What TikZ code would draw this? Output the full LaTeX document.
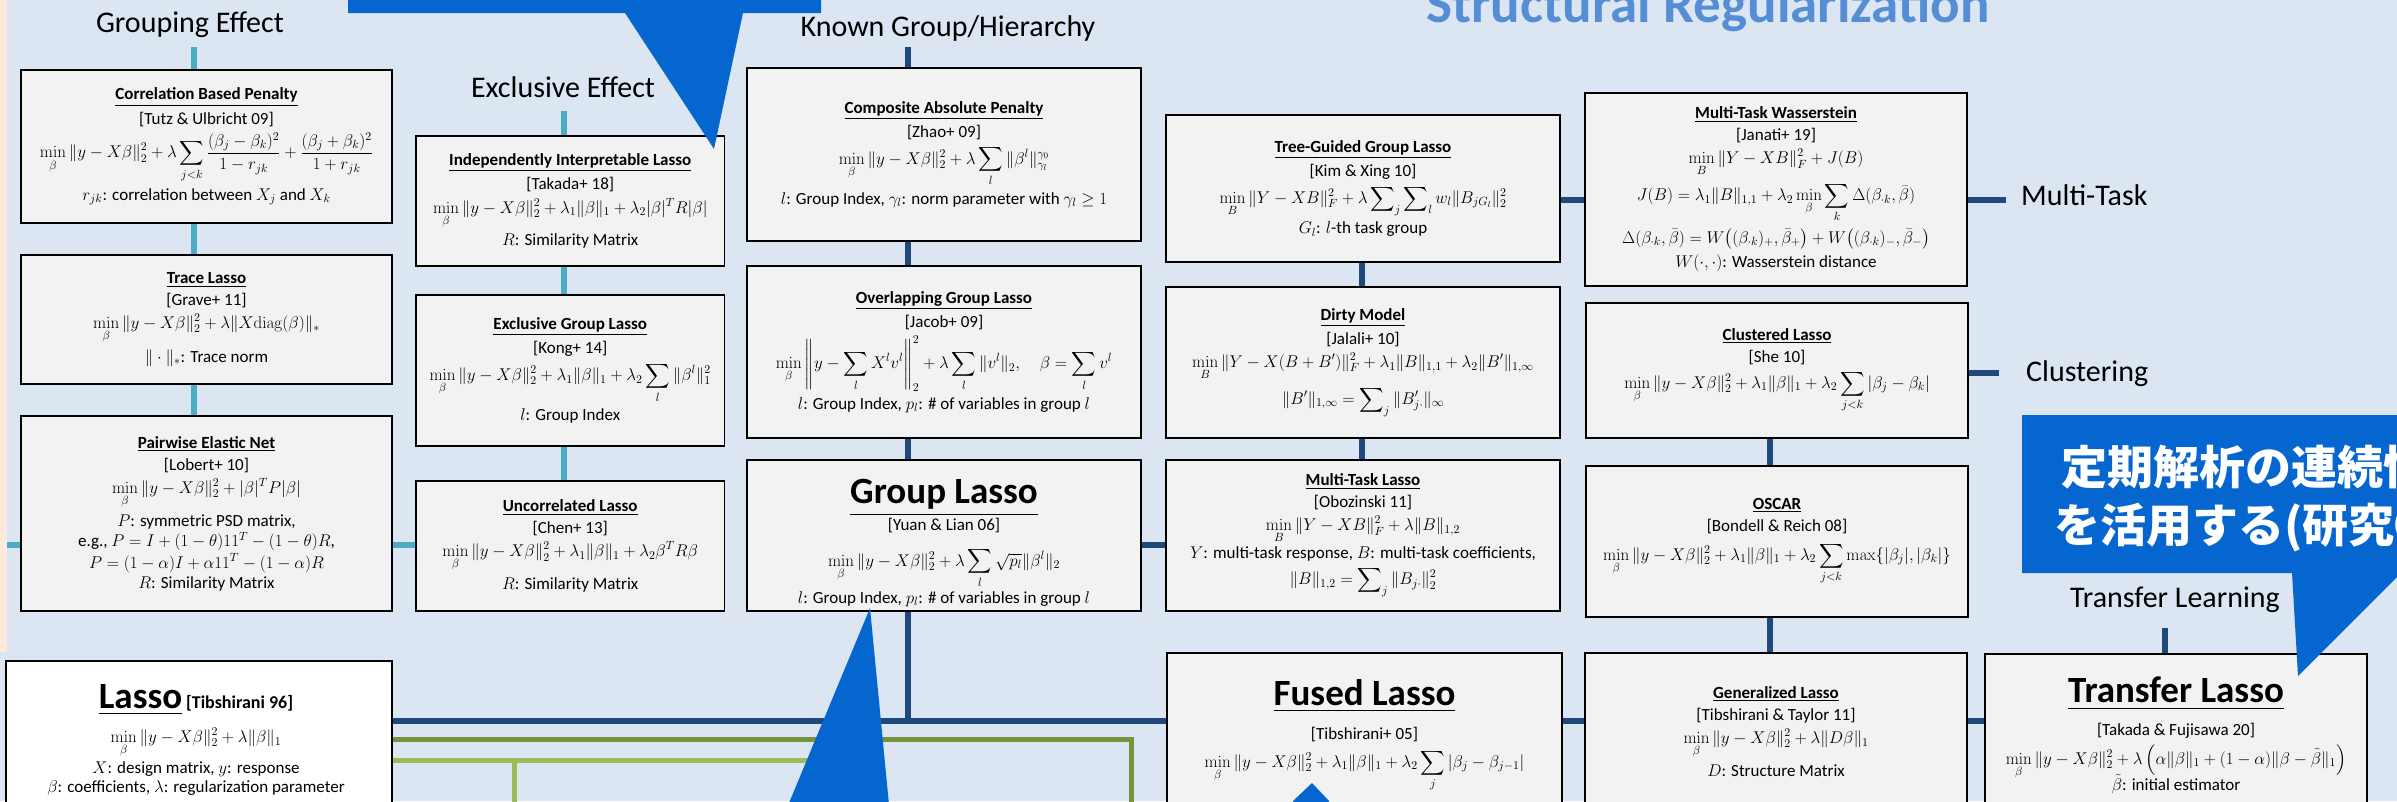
\documentclass[tikz,border=0pt]{standalone}
\usepackage{fix-cm}
\usepackage{amsmath,amssymb}
\usepackage[no-math]{fontspec}
\setmainfont{Carlito}
\newfontfamily\jpfont{Noto Sans CJK JP}
\usetikzlibrary{calc}
\pgfdeclarelayer{back}
\pgfdeclarelayer{lines}
\pgfdeclarelayer{front}
\pgfsetlayers{back,lines,main,front}
\definecolor{bgblue}{HTML}{DCE6F2}
\definecolor{peach}{HTML}{FDEADA}
\definecolor{navy}{HTML}{1F497D}
\definecolor{cyanl}{HTML}{4BACC6}
\definecolor{dkgreen}{HTML}{77933C}
\definecolor{ltgreen}{HTML}{9BBB59}
\definecolor{calloutblue}{HTML}{0566D0}
\definecolor{titleblue}{HTML}{558ED5}
\definecolor{boxgray}{HTML}{F2F2F2}
\newcommand\ttl[1]{\underline{\textbf{#1}}}
\newcommand\bigttl[1]{{\fontsize{37}{40}\selectfont\underline{\textbf{#1}}}}
\newcommand\dm[1]{$\displaystyle #1$}
\newcommand\boxfont{\fontsize{17}{22}\selectfont\lineskiplimit=6pt\lineskip=6pt}
\tikzset{
  box/.style={draw=black, line width=1.6pt, fill=boxgray, inner sep=0pt, outer sep=0pt, align=center, font=\boxfont},
  content/.style={inner sep=0pt, align=center, font=\boxfont},
  lbl/.style={font=\fontsize{30}{36}\selectfont, inner sep=0pt, anchor=base},
  navyline/.style={draw=navy, line width=5.5pt},
  cyanline/.style={draw=cyanl, line width=5.5pt},
  dkgreenline/.style={draw=dkgreen, line width=5pt},
  ltgreenline/.style={draw=ltgreen, line width=5pt},
  jptext/.style={font=\fontsize{46}{50}\selectfont\jpfont\bfseries, text=white, anchor=base west, inner sep=0pt}
}
\newcommand\mkbox[6]{\node[box,minimum width={(#4-#2)*1pt},minimum height={(#5-#3)*1pt}] (#1) at ({(#2+#4)/2},{(#3+#5)/2}) {#6};}
\begin{document}
\begin{tikzpicture}[x=1pt,y=-1pt]
\useasboundingbox (0,0) rectangle (2397,801);
\begin{pgfonlayer}{back}
\fill[bgblue] (0,0) rectangle (2397,801);
\end{pgfonlayer}

% coordinates
\coordinate (gTop) at (194,47);
\coordinate (eTop) at (564,111);
\coordinate (kTop) at (908,47);
\coordinate (tX) at (1362,0);
\coordinate (cX) at (1770,0);
\coordinate (tlTop) at (2165,628);
\coordinate (cyL) at (7,545);
\coordinate (nvY) at (0,721);
\coordinate (mtEnd) at (2006,200);
\coordinate (clEnd) at (1999,373);
\coordinate (gdY) at (0,739);
\coordinate (gdC) at (1131,739);
\coordinate (gdB) at (1131,815);
\coordinate (glY) at (0,760);
\coordinate (glC) at (845,760);
\coordinate (glB) at (845,815);
\coordinate (glV) at (514,760);
\coordinate (glVB) at (514,815);

% title and labels
\node[font=\fontsize{55}{60}\selectfont\bfseries, text=titleblue, anchor=base, inner sep=0pt] (title) at (1708,22) {Structural Regularization};
\node[lbl] (lblG) at (190,32) {Grouping Effect};
\node[lbl] (lblE) at (563,97) {Exclusive Effect};
\node[lbl] (lblK) at (948,36) {Known Group/Hierarchy};
\node[lbl,anchor=base west] (lblMT) at (2021,205) {Multi-Task};
\node[lbl,anchor=base west] (lblCl) at (2026,381) {Clustering};
\node[lbl] (lblTL) at (2175,607) {Transfer Learning};

% column 1
\mkbox{corr}{21}{70}{392}{223}{\ttl{Correlation Based Penalty}\\ {[Tutz \& Ulbricht 09]}\\ \dm{\min_{\beta}\|y-X\beta\|_2^2+\lambda\sum_{j<k}\frac{(\beta_j-\beta_k)^2}{1-r_{jk}}+\frac{(\beta_j+\beta_k)^2}{1+r_{jk}}}\\ $r_{jk}$: correlation between $X_j$ and $X_k$}
\mkbox{trace}{21}{255}{392}{384}{\ttl{Trace Lasso}\\ {[Grave+ 11]}\\ \dm{\min_\beta\|y-X\beta\|_2^2+\lambda\|X\mathrm{diag}(\beta)\|_*}\\ $\|\cdot\|_*$: Trace norm}
\mkbox{pair}{21}{416}{392}{611}{\ttl{Pairwise Elastic Net}\\ {[Lobert+ 10]}\\ \dm{\min_\beta\|y-X\beta\|_2^2+|\beta|^TP|\beta|}\\ $P$: symmetric PSD matrix,\\[-3pt] e.g., $P=I+(1-\theta)11^T-(1-\theta)R$,\\[-3pt] $P=(1-\alpha)I+\alpha 11^T-(1-\alpha)R$\\[-2pt] $R$: Similarity Matrix}

% column 2
\mkbox{indep}{416}{136}{724.5}{266}{\ttl{Independently Interpretable Lasso}\\ {[Takada+ 18]}\\ \dm{\min_\beta\|y-X\beta\|_2^2+\lambda_1\|\beta\|_1+\lambda_2|\beta|^TR|\beta|}\\ $R$: Similarity Matrix}
\mkbox{excl}{416}{295}{724.5}{446}{\ttl{Exclusive Group Lasso}\\ {[Kong+ 14]}\\ \dm{\min_\beta\|y-X\beta\|_2^2+\lambda_1\|\beta\|_1+\lambda_2\sum_l\|\beta^l\|_1^2}\\ $l$: Group Index}
\mkbox{uncor}{416}{481}{724.5}{611}{\ttl{Uncorrelated Lasso}\\ {[Chen+ 13]}\\ \dm{\min_\beta\|y-X\beta\|_2^2+\lambda_1\|\beta\|_1+\lambda_2\beta^TR\beta}\\ $R$: Similarity Matrix}

% column 3
\mkbox{comp}{747}{68}{1141}{241}{\ttl{Composite Absolute Penalty}\\ {[Zhao+ 09]}\\ \dm{\min_\beta\|y-X\beta\|_2^2+\lambda\sum_l\|\beta^l\|_{\gamma_l}^{\gamma_0}}\\ $l$: Group Index, $\gamma_l$: norm parameter with $\gamma_l\ge 1$}
\mkbox{overlap}{747}{266}{1141}{438}{\ttl{Overlapping Group Lasso}\\ {[Jacob+ 09]}\\ \dm{\min_\beta\left\|y-\sum_l X^lv^l\right\|_2^2+\lambda\sum_l\|v^l\|_2,\quad\beta=\sum_l v^l}\\ $l$: Group Index, $p_l$: \# of variables in group $l$}
\mkbox{glasso}{747}{460}{1141}{611}{}
\node[content,anchor=north] (glassoC) at (944,479) {\bigttl{Group Lasso}\\[-4pt] {[Yuan \& Lian 06]}\\[9pt] \dm{\min_\beta\|y-X\beta\|_2^2+\lambda\sum_l\sqrt{p_l}\|\beta^l\|_2}\\[-3pt] $l$: Group Index, $p_l$: \# of variables in group $l$};

% column 4
\mkbox{tree}{1166}{115}{1560}{262}{\ttl{Tree-Guided Group Lasso}\\ {[Kim \& Xing 10]}\\ \dm{\min_B\|Y-XB\|_F^2+\lambda\sum\nolimits_j\sum\nolimits_l w_l\|B_{jG_l}\|_2^2}\\ $G_l$: $l$-th task group}
\mkbox{dirty}{1166}{287}{1560}{438}{\ttl{Dirty Model}\\ {[Jalali+ 10]}\\ \dm{\min_B\|Y-X(B+B')\|_F^2+\lambda_1\|B\|_{1,1}+\lambda_2\|B'\|_{1,\infty}}\\ \dm{\|B'\|_{1,\infty}=\sum\nolimits_j\|B_{j\cdot}'\|_\infty}}
\mkbox{mtl}{1166}{460}{1560}{611}{\ttl{Multi-Task Lasso}\\ {[Obozinski 11]}\\ \dm{\min_B\|Y-XB\|_F^2+\lambda\|B\|_{1,2}}\\[-3pt] $Y$: multi-task response, $B$: multi-task coefficients,\\ \dm{\|B\|_{1,2}=\sum\nolimits_j\|B_{j\cdot}\|_2^2}}
\mkbox{fused}{1167}{653}{1562}{840}{}
\node[content,anchor=north] (fusedC) at (1364.5,679) {\bigttl{Fused Lasso}\\[8pt] {[Tibshirani+ 05]}\\[2pt] \dm{\min_\beta\|y-X\beta\|_2^2+\lambda_1\|\beta\|_1+\lambda_2\sum_j|\beta_j-\beta_{j-1}|}};

% column 5
\mkbox{mtw}{1585}{93}{1967}{286}{\ttl{Multi-Task Wasserstein}\\ {[Janati+ 19]}\\ \dm{\min_B\|Y-XB\|_F^2+J(B)}\\ \dm{J(B)=\lambda_1\|B\|_{1,1}+\lambda_2\min_\beta\sum_k\Delta(\beta_{\cdot k},\bar\beta)}\\ \dm{\Delta(\beta_{\cdot k},\bar\beta)=W\bigl((\beta_{\cdot k})_+,\bar\beta_+\bigr)+W\bigl((\beta_{\cdot k})_-,\bar\beta_-\bigr)}\\ $W(\cdot,\cdot)$: Wasserstein distance}
\mkbox{clus}{1586}{303}{1968}{438}{\ttl{Clustered Lasso}\\ {[She 10]}\\ \dm{\min_\beta\|y-X\beta\|_2^2+\lambda_1\|\beta\|_1+\lambda_2\sum_{j<k}|\beta_j-\beta_k|}}
\mkbox{oscar}{1586}{466}{1968}{617}{\ttl{OSCAR}\\ {[Bondell \& Reich 08]}\\[3pt] \dm{\min_\beta\|y-X\beta\|_2^2+\lambda_1\|\beta\|_1+\lambda_2\sum_{j<k}\max\{|\beta_j|,|\beta_k|\}}}
\mkbox{gen}{1585}{653}{1967}{840}{}
\node[content,anchor=north] (genC) at (1776,686) {\ttl{Generalized Lasso}\\ {[Tibshirani \& Taylor 11]}\\ \dm{\min_\beta\|y-X\beta\|_2^2+\lambda\|D\beta\|_1}\\ $D$: Structure Matrix};
\mkbox{tl}{1985}{654}{2367}{840}{}
\node[content,anchor=north] (tlC) at (2176,677) {\bigttl{Transfer Lasso}\\[7pt] {[Takada \& Fujisawa 20]}\\ \dm{\min_\beta\|y-X\beta\|_2^2+\lambda\left(\alpha\|\beta\|_1+(1-\alpha)\|\beta-\tilde\beta\|_1\right)}\\[-11pt] $\tilde\beta$: initial estimator};

% Lasso
\node[box,fill=white,minimum width=386pt,minimum height=180pt] (lasso) at (199,751) {};
\node[content,anchor=north] (lassoC) at (196,684) {\bigttl{Lasso} {\fontsize{18}{20}\selectfont\textbf{[Tibshirani 96]}}\\[6pt] \dm{\min_\beta\|y-X\beta\|_2^2+\lambda\|\beta\|_1}\\[-2pt] $X$: design matrix, $y$: response\\[-3pt] $\beta$: coefficients, $\lambda$: regularization parameter};

\begin{pgfonlayer}{back}
\fill[peach] (0,0) rectangle (7,652);
\end{pgfonlayer}

\begin{pgfonlayer}{lines}
\draw[cyanline] (gTop) -- (corr.north -| gTop);
\draw[cyanline] (corr.south -| gTop) -- (trace.north -| gTop);
\draw[cyanline] (trace.south -| gTop) -- (pair.north -| gTop);
\draw[cyanline] (eTop) -- (indep.north -| eTop);
\draw[cyanline] (indep.south -| eTop) -- (excl.north -| eTop);
\draw[cyanline] (excl.south -| eTop) -- (uncor.north -| eTop);
\draw[cyanline] (cyL) -- (pair.west |- cyL);
\draw[cyanline] (pair.east |- cyL) -- (uncor.west |- cyL);
\draw[navyline] (kTop) -- (comp.north -| kTop);
\draw[navyline] (comp.south -| kTop) -- (overlap.north -| kTop);
\draw[navyline] (overlap.south -| kTop) -- (glasso.north -| kTop);
\draw[navyline] (glasso.south -| kTop) -- (kTop |- nvY);
\draw[navyline] (lasso.east |- nvY) -- (fused.west |- nvY);
\draw[navyline] (fused.east |- nvY) -- (gen.west |- nvY);
\draw[navyline] (gen.east |- nvY) -- (tl.west |- nvY);
\draw[navyline] (glasso.east |- cyL) -- (mtl.west |- cyL);
\draw[navyline] (tree.south -| tX) -- (dirty.north -| tX);
\draw[navyline] (dirty.south -| tX) -- (mtl.north -| tX);
\draw[navyline] (tree.east |- mtEnd) -- (mtw.west |- mtEnd);
\draw[navyline] (mtw.east |- mtEnd) -- (mtEnd);
\draw[navyline] (clus.east |- clEnd) -- (clEnd);
\draw[navyline] (clus.south -| cX) -- (oscar.north -| cX);
\draw[navyline] (oscar.south -| cX) -- (gen.north -| cX);
\draw[navyline] (tlTop) -- (tl.north -| tlTop);
\draw[dkgreenline] (lasso.east |- gdY) -- (gdC) -- (gdB);
\draw[ltgreenline] (lasso.east |- glY) -- (glC) -- (glB);
\draw[ltgreenline] (glV) -- (glVB);
\end{pgfonlayer}

\begin{pgfonlayer}{front}
\fill[calloutblue] (348,-5) -- (821,-5) -- (821,13) -- (743,13) -- (714,149) -- (625,13) -- (348,13) -- cycle;
\fill[calloutblue] (784,815) -- (870,608) -- (890,815) -- cycle;
\fill[calloutblue] (1293,801) -- (1312,783) -- (1329,801) -- (1329,815) -- (1293,815) -- cycle;
\fill[calloutblue] (2022,415) -- (2405,415) -- (2405,569) -- (2298,676) -- (2292,573) -- (2022,573) -- cycle;
\node[jptext] (jp1) at (2061,484) {定期解析の連続性};
\node[jptext] (jp2) at (2054,542) {を活用する(研究①)};
\end{pgfonlayer}
\end{tikzpicture}
\end{document}
